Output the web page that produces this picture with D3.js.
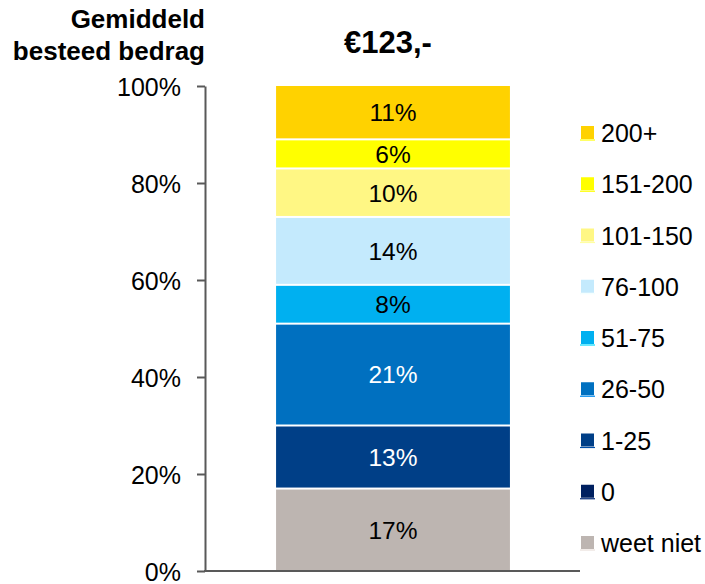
<!DOCTYPE html>
<html>
<head>
<meta charset="utf-8">
<script src="https://cdn.jsdelivr.net/npm/d3@7"></script>
<style>
  html, body { margin: 0; padding: 0; background: #fff; }
  text { font-family: "Liberation Sans", Arial, sans-serif; }
</style>
</head>
<body>
<svg id="chart" width="705" height="584"></svg>
<script>
// Data (bottom to top)
const categories = ["weet niet", "0", "1-25", "26-50", "51-75", "76-100", "101-150", "151-200", "200+"];
const values = [17, 0, 13, 21, 8, 14, 10, 6, 11];
const colors = ["#BDB5B1", "#002060", "#003F87", "#0070C0", "#00B0F0", "#C4EAFD", "#FFF784", "#FFFF00", "#FFD200"];
const labelColors = ["#000", "#fff", "#fff", "#fff", "#000", "#000", "#000", "#000", "#000"];
const yTicks = [0, 20, 40, 60, 80, 100];
const barName = ["€123,-"];
const yLabelLines = ["Gemiddeld", "besteed bedrag"];

const svg = d3.select("#chart");

const y = d3.scaleLinear().domain([0, 100]).range([571, 86]);
const x = d3.scaleBand().domain(barName).range([248, 538]).paddingInner(0).paddingOuter(0.12);

// stacked
let cum = 0;
const segs = values.map((v, i) => { const s = {cat: categories[i], v, y0: cum, y1: cum + v, color: colors[i], lc: labelColors[i]}; cum += v; return s; });

const bx = x(barName[0]), bw = x.bandwidth();

svg.append("g").selectAll("rect").data(segs.filter(d => d.v > 0)).join("rect")
  .attr("x", bx).attr("width", bw)
  .attr("y", d => y(d.y1) + (d.y1 >= 100 ? 0 : 1))
  .attr("height", d => y(d.y0) - y(d.y1) - (d.y1 >= 100 ? 0 : 1) - (d.y0 <= 0 ? 0 : 1))
  .attr("fill", d => d.color);

svg.append("g").selectAll("text").data(segs.filter(d => d.v > 0)).join("text")
  .attr("x", bx + bw / 2)
  .attr("y", d => y((d.y0 + d.y1) / 2))
  .attr("dy", "0.36em")
  .attr("text-anchor", "middle")
  .attr("font-size", 24.5)
  .attr("fill", d => d.lc)
  .text(d => d.v + "%");

// y axis
const axis = d3.axisLeft(y).tickValues(yTicks).tickFormat(d => d + "%").tickSize(8).tickSizeOuter(0).tickPadding(16);
const ag = svg.append("g").attr("transform", "translate(205,0)").call(axis);
ag.select(".domain").attr("stroke", "#595959").attr("stroke-width", 2);
ag.selectAll(".tick line").attr("stroke", "#595959").attr("stroke-width", 2);
ag.selectAll(".tick text").attr("font-size", 25).attr("fill", "#000")
  .attr("font-family", "'Liberation Sans', Arial, sans-serif").attr("dy", "0.36em");

// baseline
svg.append("line").attr("x1", 204).attr("x2", 580).attr("y1", y(0)).attr("y2", y(0))
  .attr("stroke", "#595959").attr("stroke-width", 2);

// title
svg.append("text").attr("x", 388).attr("y", 53).attr("text-anchor", "middle")
  .attr("font-size", 31).attr("font-weight", "bold").text(barName[0]);

// y label
svg.append("g").selectAll("text").data(yLabelLines).join("text")
  .attr("x", 205).attr("y", (d, i) => 28 + i * 32)
  .attr("text-anchor", "end").attr("font-size", 26).attr("font-weight", "bold")
  .text(d => d);

// legend (top to bottom)
const legendItems = segs.slice().reverse();
const ly = d3.scalePoint().domain(legendItems.map(d => d.cat)).range([133, 543]);
const lg = svg.append("g").selectAll("g").data(legendItems).join("g")
  .attr("transform", d => `translate(581,${ly(d.cat)})`);
lg.append("rect").attr("x", 0).attr("y", -7).attr("width", 13).attr("height", 13).attr("fill", d => d.color);
lg.append("line").attr("x1", -1).attr("x2", 14).attr("y1", 7).attr("y2", 7)
  .attr("stroke", d => d3.color(d.color).brighter(0.6)).attr("stroke-width", 1.2);
lg.append("text").attr("x", 20).attr("y", 0).attr("dy", "0.36em").attr("font-size", 25).text(d => d.cat);
</script>
</body>
</html>
